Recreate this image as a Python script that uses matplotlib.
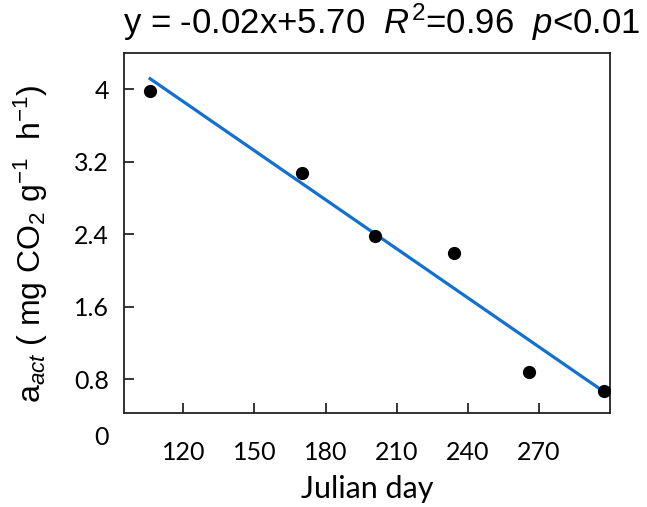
import matplotlib
matplotlib.use("Agg")
import matplotlib.pyplot as plt
import numpy as np

# Datos: día juliano y actividad
dia = np.array([106, 170, 201, 234, 266, 297.5])
a_act = np.array([3.985, 3.07, 2.38, 2.187, 0.877, 0.671])

x_ticks = [120, 150, 180, 210, 240, 270]
y_ticks = [0.8, 1.6, 2.4, 3.2, 4]
y_ticklabels = ["0.8", "1.6", "2.4", "3.2", "4"]

azul = "#1170d0"

plt.rcParams['font.family'] = ['Lato', 'DejaVu Sans']
plt.rcParams['mathtext.fontset'] = 'custom'
plt.rcParams['mathtext.rm'] = 'Liberation Sans'
plt.rcParams['mathtext.it'] = 'Liberation Sans:italic'

fig = plt.figure(figsize=(6.47, 5.07), dpi=100)
ax = fig.add_axes([0.1917, 0.1854, 0.7511, 0.7101])

# Recta de ajuste
m, b = np.polyfit(dia, a_act, 1)
xs = np.array([dia.min(), dia.max()])
ax.plot(xs, m * xs + b, color=azul, lw=2.3, zorder=2)
ax.plot(dia, a_act, 'o', color='black', ms=8.5, zorder=3)

ax.set_xlim(95, 300)
ax.set_ylim(0.425, 4.4)
ax.set_xticks(x_ticks)
ax.set_yticks(y_ticks)
ax.set_yticklabels(y_ticklabels)

for s in ax.spines.values():
    s.set_color('#222222')
    s.set_linewidth(1.3)

ax.tick_params(axis='x', direction='in', length=7, width=1.1, labelsize=18, pad=20)
ax.tick_params(axis='y', direction='in', length=7, width=1.1, labelsize=18, pad=11)

# Etiqueta "0" bajo el eje
ax.text(-0.031, -0.069, "0", transform=ax.transAxes, ha='right', va='center', fontsize=18)

ax.set_xlabel("Julian day", fontsize=22, labelpad=8)
ax.set_ylabel(r"$\mathrm{a}_{\mathit{act}}$ ( mg CO$_\mathrm{2}$ g$^{\mathrm{-1}}$  h$^{\mathrm{-1}}$)",
              family='Liberation Sans', fontsize=23)
ax.yaxis.set_label_coords(-0.152, 0.47)

fig.text(0.99, 0.957, r"y = -0.02x+5.70  $\mathit{R}^{2}$=0.96  $\mathit{p}$<0.01",
         family='Liberation Sans', fontsize=25, ha='right', va='center')

plt.savefig("out.png", dpi=100)
